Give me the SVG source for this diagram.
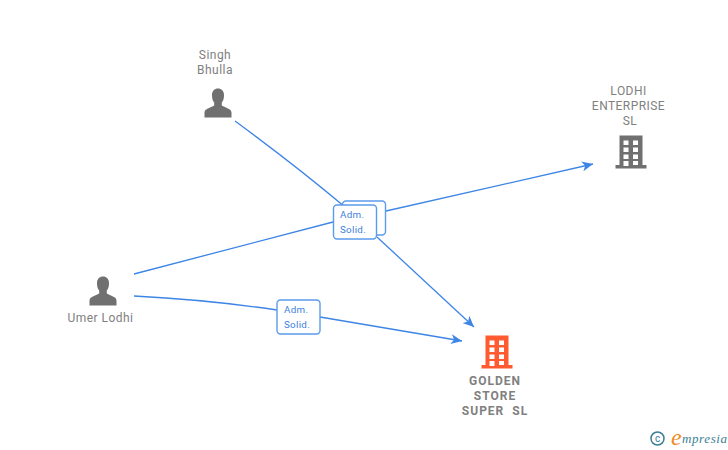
<svg xmlns="http://www.w3.org/2000/svg" width="728" height="450" viewBox="0 0 728 450">
<defs>
<style>
text{font-family:Roboto,"Liberation Sans",Arial,sans-serif}
.n{font-size:12px;fill:#808080;text-anchor:middle;letter-spacing:.45px}
.b{font-weight:bold;letter-spacing:1px}
.l{fill:none;stroke:#3d85e6;stroke-width:1.3}
.box{fill:#fff;stroke:#5b9bec;stroke-width:1.4}
.t{font-size:9.8px;fill:#3d7fdc;letter-spacing:.3px}
.head{fill:#3d85e6}
.w{fill:#fff}
</style>
<marker id="arrow" viewBox="0 0 12 10" refX="11" refY="5" markerWidth="12" markerHeight="10" markerUnits="userSpaceOnUse" orient="auto"><path class="head" d="M0 0L11 5L0 10L3 5Z"/></marker>
<g id="person"><path fill="#707070" d="M-13.500 14.500V9.500C-13.500 5.500-7.500 5-3.800 2.500V-.500C-5.500-2-6-5-6-8C-6-12-3.500-14.500 0-14.500C3.500-14.500 6-12 6-8C6-5 5.500-2 3.800-.500V2.500C7.500 5 13.500 5.500 13.500 9.500V14.500Z"/></g>
<g id="bld"><path d="M-11.500-16.500H11.500V13H15.500V16.500H-15.500V13H-11.500Z"/><g class="w"><rect x="-7.500" y="-11.500" width="5" height="4.500"/><rect x="2" y="-11.500" width="5" height="4.500"/><rect x="-7.500" y="-4.500" width="5" height="4.500"/><rect x="2" y="-4.500" width="5" height="4.500"/><rect x="-7.500" y="2.500" width="5" height="4.500"/><rect x="2" y="2.500" width="5" height="4.500"/><rect x="-7.500" y="9" width="5" height="5"/><rect x="2" y="9" width="5" height="4"/></g></g>
</defs>
<rect width="728" height="450" fill="#fff"/>
<g id="connectors">
<path class="l" d="M235 121Q295 165 345 207"/>
<path class="l" d="M134 274L333 222M386 211L593 164" marker-end="url(#arrow)"/>
<path class="l" d="M377 237L474 327" marker-end="url(#arrow)"/>
<path class="l" d="M134 296Q210 300 277 310M320 317L462 341" marker-end="url(#arrow)"/>
</g>
<g id="label-back"><rect class="box" x="342.500" y="201" width="43" height="34" rx="3.500"/></g>
<g id="label-front"><rect class="box" x="333.500" y="205" width="43" height="34" rx="3.500"/><text class="t" x="340" y="218">Adm.</text><text class="t" x="340" y="233">Solid.</text></g>
<g id="label-umer"><rect class="box" x="277" y="300" width="43" height="34" rx="3.500"/><text class="t" x="284" y="313">Adm.</text><text class="t" x="284" y="328">Solid.</text></g>
<g id="singh"><text class="n" x="215" y="59">Singh</text><text class="n" x="215" y="74">Bhulla</text><use href="#person" x="218" y="103"/></g>
<g id="umer"><use href="#person" x="103" y="291"/><text class="n" x="100.500" y="322">Umer Lodhi</text></g>
<g id="lodhi"><text class="n" x="628.500" y="95">LODHI</text><text class="n" x="628.500" y="110">ENTERPRISE</text><text class="n" x="630" y="125">SL</text><use href="#bld" x="631" y="152" fill="#707070"/></g>
<g id="golden"><use href="#bld" x="497" y="352" fill="#ff5a30"/><text class="n b" x="495" y="385">GOLDEN</text><text class="n b" x="495" y="400">STORE</text><text class="n b" x="495" y="415" xml:space="preserve">SUPER  SL</text></g>
<g id="brand"><circle cx="657.500" cy="438.500" r="6.500" fill="none" stroke="#3b7f95" stroke-width="1.500"/><text x="657.500" y="442" font-size="10" fill="#3b7f95" text-anchor="middle">c</text><text x="671" y="445" font-size="24" font-style="italic" fill="#f08a1d" style="font-family:'Liberation Serif',serif">e</text><text x="682" y="443" font-size="13" font-style="italic" fill="#3b7f95" style="font-family:'Liberation Serif',serif;letter-spacing:.6px">mpresia</text></g>
</svg>
